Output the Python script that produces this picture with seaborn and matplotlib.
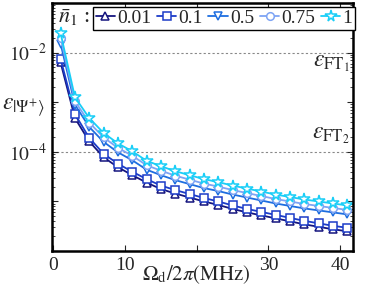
"""Error vs drive amplitude for several thermal populations (log y)."""

import matplotlib
matplotlib.use("Agg")
import matplotlib.pyplot as plt
import numpy as np
import pandas as pd
import seaborn as sns
from matplotlib.ticker import LogLocator, NullFormatter

# drive amplitude Omega_d / 2pi in MHz
omega = [1, 3, 5, 7, 9, 11, 13, 15, 17, 19, 21, 23, 25, 27, 29, 31, 33, 35, 37, 39, 41]

# log10 of the error
log_n001 = [-2.20, -3.32, -3.79, -4.11, -4.31, -4.47, -4.62, -4.75, -4.84, -4.92, -5.00,
            -5.07, -5.15, -5.22, -5.28, -5.34, -5.40, -5.46, -5.51, -5.56, -5.60]
log_n01 = [-2.13, -3.24, -3.72, -4.04, -4.24, -4.40, -4.55, -4.68, -4.77, -4.85, -4.93,
           -5.00, -5.08, -5.15, -5.21, -5.27, -5.33, -5.39, -5.44, -5.49, -5.53]
log_n05 = [-1.82, -3.05, -3.50, -3.80, -4.01, -4.17, -4.36, -4.47, -4.57, -4.65, -4.73,
           -4.79, -4.86, -4.92, -4.98, -5.04, -5.09, -5.14, -5.18, -5.22, -5.26]
log_n075 = [-1.70, -2.98, -3.41, -3.71, -3.92, -4.08, -4.27, -4.38, -4.48, -4.56, -4.64,
            -4.70, -4.77, -4.83, -4.89, -4.95, -5.00, -5.05, -5.09, -5.13, -5.17]
log_n1 = [-1.61, -2.90, -3.32, -3.62, -3.83, -3.99, -4.18, -4.29, -4.39, -4.47, -4.55,
          -4.61, -4.68, -4.74, -4.80, -4.86, -4.91, -4.96, -5.00, -5.04, -5.08]

labels = ["0.01", "0.1", "0.5", "0.75", "1"]
colors = ["#15157f", "#1c3cc8", "#1e6ee0", "#7ea4f4", "#19cef7"]
markers = ["^", "s", "v", "o", "*"]
series = [log_n001, log_n01, log_n05, log_n075, log_n1]

sns.set_theme(style="ticks")
plt.rcParams["font.family"] = ["Liberation Serif", "DejaVu Serif"]
plt.rcParams["mathtext.fontset"] = "stix"

fig = plt.figure(figsize=(3.74, 2.88), dpi=100)
ax = fig.add_axes([0.139, 0.128, 0.805, 0.862])

for lab, col, mk, vals in zip(labels, colors, markers, series):
    df = pd.DataFrame({"x": omega, "y": np.power(10.0, vals)})
    sns.lineplot(data=df, x="x", y="y", color=col, marker=mk, label=lab,
                 markersize=8.5 if mk == "*" else 5.5, markerfacecolor="white",
                 markeredgecolor=col, markeredgewidth=1.1, linewidth=1.3, ax=ax)

ax.set_yscale("log")
ax.set_xlim(-0.2, 41.8)
ax.set_ylim(1e-6, 1e-1)

ax.axhline(1e-2, color="#888888", ls=(0, (2, 2)), lw=0.8, zorder=0)
ax.axhline(1e-4, color="#888888", ls=(0, (2, 2)), lw=0.8, zorder=0)

ax.set_xticks([0, 10, 20, 30, 40])
ax.set_xticklabels(["0", "10", "", "30", "40"])
ax.set_yticks([1e-6, 1e-5, 1e-4, 1e-3, 1e-2, 1e-1])
ax.set_yticklabels(["", "", "$10^{-4}$", "", "$10^{-2}$", ""])
ax.yaxis.set_minor_locator(LogLocator(base=10, subs=np.arange(2, 10), numticks=20))
ax.yaxis.set_minor_formatter(NullFormatter())
ax.tick_params(which="both", direction="in", top=True, right=True, labelsize=14)
ax.tick_params(which="major", length=4, width=0.8)
ax.tick_params(which="minor", length=2, width=0.6)
ax.tick_params(axis="x", pad=4)
for sp in ax.spines.values():
    sp.set_linewidth(1.8)
    sp.set_color("black")

ax.set_xlabel("")
ax.set_ylabel("")
ax.text(0.48, -0.095, r"$\Omega_\mathrm{d}/2\pi(\mathrm{MHz})$", transform=ax.transAxes,
        ha="center", va="center", fontsize=15)
ax.text(-0.095, 0.58, r"$\varepsilon_{|\Psi^{+}\rangle}$", transform=ax.transAxes,
        ha="center", va="center", fontsize=17)
ax.text(0.99, 0.755, r"$\varepsilon_{\mathrm{FT}_1}$", transform=ax.transAxes,
        ha="right", va="center", fontsize=17)
ax.text(0.99, 0.465, r"$\varepsilon_{\mathrm{FT}_2}$", transform=ax.transAxes,
        ha="right", va="center", fontsize=17)
ax.text(0.02, 0.94, r"$\bar{n}_1$ :", transform=ax.transAxes,
        ha="left", va="center", fontsize=16)

leg = ax.legend(loc="upper left", bbox_to_anchor=(0.135, 0.985), ncol=5, fontsize=14,
                handlelength=1.0, handletextpad=0.1, columnspacing=0.3,
                borderpad=0.15, borderaxespad=0.0, fancybox=False, framealpha=1)
leg.get_frame().set_edgecolor("black")
leg.get_frame().set_linewidth(1.0)

fig.savefig("out.png", dpi=100)
